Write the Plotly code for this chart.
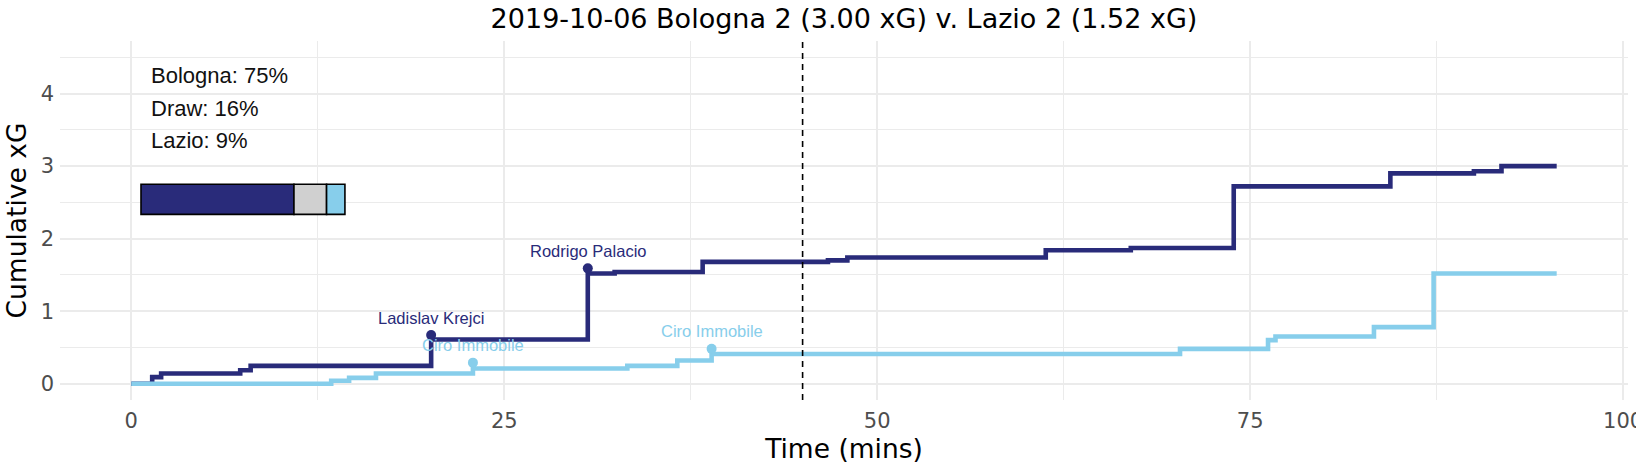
import plotly.graph_objects as go

# ---- data ----
home_team = "Bologna"
away_team = "Lazio"
match_title = "2019-10-06 Bologna 2 (3.00 xG) v. Lazio 2 (1.52 xG)"

bologna_min = [0, 1.4, 2.0, 7.3, 8.0, 20.1, 30.6, 32.4, 38.3, 46.7, 48.0, 61.3, 67.0, 73.9, 84.4, 90.0, 91.85, 95.55]
bologna_xg = [0, 0.09, 0.14, 0.185, 0.245, 0.61, 1.52, 1.54, 1.68, 1.70, 1.74, 1.84, 1.87, 2.72, 2.90, 2.93, 3.00, 3.00]

lazio_min = [0, 13.4, 14.6, 16.4, 22.9, 33.25, 36.6, 38.9, 70.3, 76.2, 76.7, 83.3, 87.3, 95.55]
lazio_xg = [0, 0.04, 0.08, 0.14, 0.21, 0.245, 0.32, 0.41, 0.48, 0.60, 0.65, 0.78, 1.52, 1.52]

bologna_goal_min = [20.1, 30.6]
bologna_goal_xg = [0.67, 1.59]
bologna_scorers = ["Ladislav Krejci", "Rodrigo Palacio"]

lazio_goal_min = [22.9, 38.9]
lazio_goal_xg = [0.29, 0.48]
lazio_scorers = ["Ciro Immobile", "Ciro Immobile"]

outcome_labels = ["Bologna", "Draw", "Lazio"]
outcome_probs = [75, 16, 9]

half_time = 45
x_ticks = [0, 25, 50, 75, 100]
y_ticks = [0, 1, 2, 3, 4]

# ---- styles ----
NAVY = "#292B7A"
SKY = "#87CEEB"
GREY = "#D0D0D0"
GRID = "#EBEBEB"
TXT_FONT = "DejaVu Sans"
ANN_FONT = "Liberation Sans"
label_offset = 0.24

fig = go.Figure()

fig.add_trace(go.Scatter(x=bologna_min, y=bologna_xg, mode="lines", line=dict(color=NAVY, width=4.6, shape="hv"),
                         name=home_team, showlegend=False, hoverinfo="skip"))
fig.add_trace(go.Scatter(x=lazio_min, y=lazio_xg, mode="lines", line=dict(color=SKY, width=4.6, shape="hv"),
                         name=away_team, showlegend=False, hoverinfo="skip"))

fig.add_trace(go.Scatter(x=bologna_goal_min, y=bologna_goal_xg, mode="markers",
                         marker=dict(color=NAVY, size=10), showlegend=False, hoverinfo="skip"))
fig.add_trace(go.Scatter(x=lazio_goal_min, y=lazio_goal_xg, mode="markers",
                         marker=dict(color=SKY, size=10), showlegend=False, hoverinfo="skip"))

annotations = []
for m, v, n in zip(bologna_goal_min, bologna_goal_xg, bologna_scorers):
    annotations.append(dict(x=m, y=v + label_offset, text=n, showarrow=False, xanchor="center", yanchor="middle",
                            font=dict(family=ANN_FONT, size=16.5, color=NAVY)))
for m, v, n in zip(lazio_goal_min, lazio_goal_xg, lazio_scorers):
    annotations.append(dict(x=m, y=v + label_offset, text=n, showarrow=False, xanchor="center", yanchor="middle",
                            font=dict(family=ANN_FONT, size=16.5, color=SKY)))

# probability text lines
prob_text_y = [4.25, 3.80, 3.35]
for lab, p, ty in zip(outcome_labels, outcome_probs, prob_text_y):
    annotations.append(dict(x=1.2, y=ty, text=f"{lab}: {p}%", showarrow=False, xanchor="left", yanchor="middle",
                            font=dict(family=ANN_FONT, size=22, color="#111111")))

shapes = []
# probability bar
bar_x0, bar_len = 0.65, 13.67
bar_y0, bar_y1 = 2.335, 2.75
bar_colors = [NAVY, GREY, SKY]
cur = bar_x0
for p, c in zip(outcome_probs, bar_colors):
    w = bar_len * p / 100.0
    shapes.append(dict(type="rect", xref="x", yref="y", x0=cur, x1=cur + w, y0=bar_y0, y1=bar_y1,
                       fillcolor=c, line=dict(color="black", width=1.6), layer="above"))
    cur += w

# half-time dashed line
shapes.append(dict(type="line", xref="x", yref="paper", x0=half_time, x1=half_time, y0=0, y1=1,
                   line=dict(color="black", width=1.6, dash="6px,5px"), layer="above"))

fig.update_layout(
    width=1636, height=466,
    margin=dict(l=60, r=8, t=41, b=66, autoexpand=False),
    paper_bgcolor="white", plot_bgcolor="white",
    title=dict(text=match_title, x=0.5, xref="paper", xanchor="center",
               y=1 - 18.5 / 466, yref="container", yanchor="middle",
               font=dict(family=TXT_FONT, size=27, color="black")),
    shapes=shapes, annotations=annotations, showlegend=False,
    xaxis=dict(range=[-4.78, 100.33], tickvals=x_ticks, ticktext=[str(t) for t in x_ticks],
               showgrid=True, gridcolor=GRID, gridwidth=1.6, zeroline=False, showline=False,
               minor=dict(dtick=12.5, tick0=0, showgrid=True, gridcolor=GRID, gridwidth=1),
               tickfont=dict(family=TXT_FONT, size=21, color="#4D4D4D"), ticklabelstandoff=6,
               ticklabeloverflow="allow", automargin=False,
               title=dict(text="Time (mins)", font=dict(family=TXT_FONT, size=26.5, color="black"), standoff=6)),
    yaxis=dict(range=[-0.225, 4.725], tickvals=y_ticks, ticktext=[str(t) for t in y_ticks],
               showgrid=True, gridcolor=GRID, gridwidth=1.6, zeroline=False, showline=False,
               minor=dict(dtick=0.5, tick0=0, showgrid=True, gridcolor=GRID, gridwidth=1),
               tickfont=dict(family=TXT_FONT, size=21, color="#4D4D4D"), ticklabelstandoff=5,
               automargin=False,
               title=dict(text="Cumulative xG", font=dict(family=TXT_FONT, size=26.5, color="black"), standoff=6)),
)

fig.write_html("out.html", config={"displayModeBar": False},
               post_script="document.documentElement.style.margin='0';document.body.style.margin='0';"
                           "document.body.style.padding='0';document.body.style.overflow='hidden';")
